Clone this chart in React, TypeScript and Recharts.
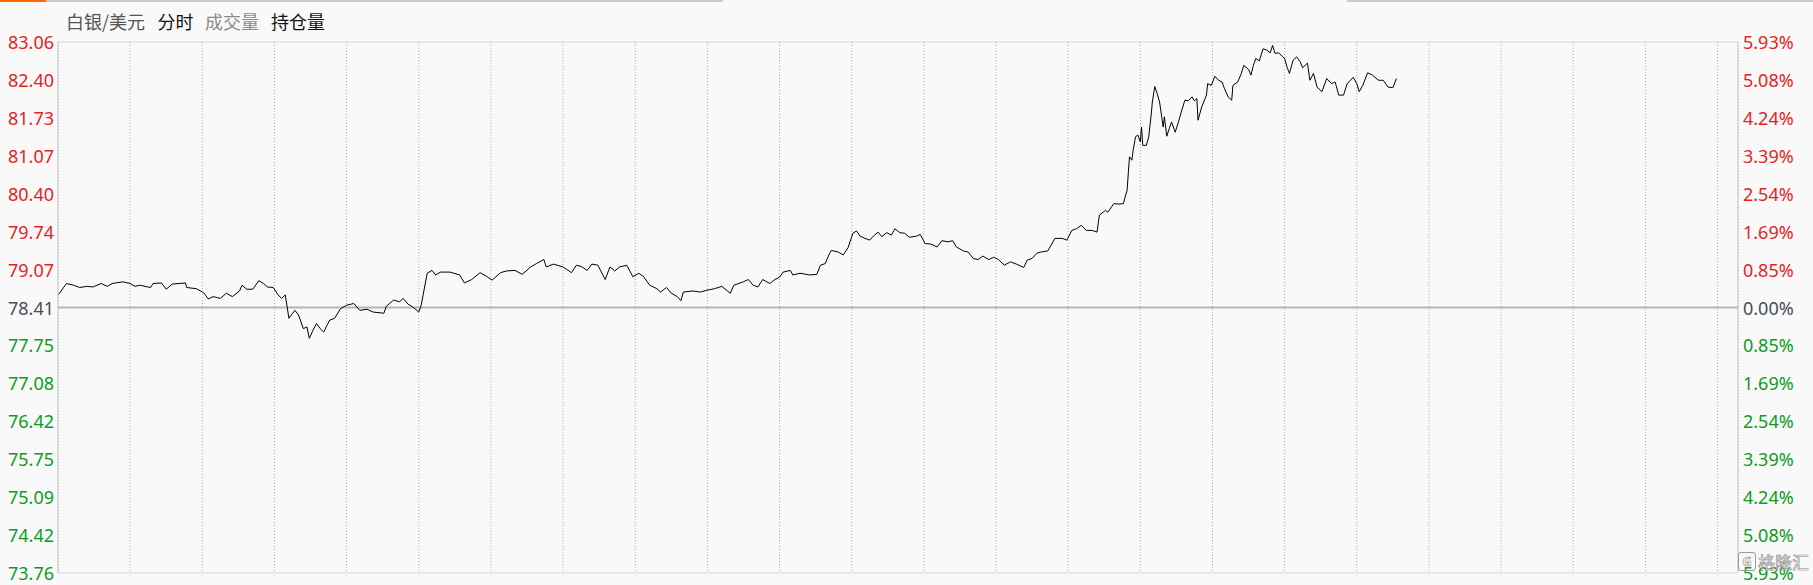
import { LineChart, Line, XAxis, YAxis, CartesianGrid, ReferenceLine } from "recharts"

// minutes since the session opened, and the silver price at that minute
const minutes = [
  0, 2, 7, 13, 18, 24, 29, 36, 41, 45, 54, 60, 64, 68, 77, 79, 86, 90, 95, 106,
  107, 115, 121, 125, 129, 135, 140, 145, 151, 153, 157, 162, 167, 171, 174, 179, 183, 186, 189, 192,
  194, 197, 200, 204, 207, 209, 212, 215, 218, 221, 223, 226, 230, 235, 240, 246, 251, 257, 262, 271,
  273, 279, 284, 287, 291, 295, 300, 302, 307, 311, 314, 318, 326, 334, 338, 344, 351, 356, 361, 368,
  373, 380, 386, 393, 398, 404, 406, 412, 420, 427, 431, 435, 440, 444, 449, 455, 459, 463, 467, 473,
  478, 483, 487, 492, 498, 501, 506, 510, 515, 518, 520, 528, 534, 539, 546, 552, 559, 562, 570, 574,
  578, 582, 586, 592, 596, 600, 603, 609, 611, 617, 625, 631, 634, 638, 641, 643, 649, 653, 657, 661,
  664, 667, 671, 675, 678, 682, 685, 689, 693, 696, 700, 704, 708, 714, 717, 721, 726, 731, 735, 740,
  744, 747, 753, 757, 761, 765, 769, 774, 778, 782, 787, 792, 797, 803, 806, 810, 814, 817, 823, 829,
  835, 839, 843, 847, 851, 855, 860, 864, 865, 866, 871, 873, 878, 882, 886, 887, 889, 890, 891, 893,
  894, 896, 898, 900, 901, 902, 905, 907, 909, 910, 912, 914, 916, 918, 919, 920, 922, 924, 926, 929,
  932, 934, 937, 940, 943, 945, 947, 948, 951, 955, 956, 959, 962, 965, 968, 970, 973, 976, 977, 981,
  984, 986, 990, 992, 994, 996, 999, 1002, 1005, 1008, 1010, 1012, 1015, 1018, 1020, 1022, 1024, 1027, 1030, 1033,
  1035, 1039, 1041, 1044, 1047, 1051, 1055, 1059, 1062, 1065, 1069, 1072, 1077, 1080, 1082, 1085, 1089, 1093, 1098, 1102,
  1106, 1110, 1113,
]

const prices = [
  78.63, 78.68, 78.83, 78.8, 78.76, 78.78, 78.77, 78.83, 78.78, 78.83, 78.86, 78.83, 78.78, 78.8, 78.76, 78.83, 78.84, 78.73, 78.82, 78.84,
  78.76, 78.74, 78.67, 78.56, 78.6, 78.57, 78.66, 78.6, 78.7, 78.8, 78.73, 78.73, 78.88, 78.83, 78.77, 78.76, 78.63, 78.57, 78.63, 78.22,
  78.28, 78.36, 78.28, 78.04, 78.07, 77.87, 78.01, 78.13, 78.04, 77.98, 78.07, 78.19, 78.22, 78.39, 78.45, 78.48, 78.36, 78.38, 78.33, 78.31,
  78.43, 78.54, 78.51, 78.57, 78.47, 78.42, 78.33, 78.45, 79.01, 79.06, 78.98, 79.03, 79.03, 78.98, 78.84, 78.9, 79.02, 78.96, 78.89, 79.02,
  79.05, 79.06, 78.99, 79.12, 79.18, 79.25, 79.12, 79.17, 79.12, 79.02, 79.15, 79.13, 79.06, 79.17, 79.15, 78.9, 79.12, 79.05, 79.12, 79.15,
  78.95, 79.01, 78.95, 78.8, 78.74, 78.68, 78.76, 78.66, 78.6, 78.53, 78.68, 78.7, 78.68, 78.71, 78.74, 78.78, 78.66, 78.8, 78.86, 78.9,
  78.8, 78.77, 78.9, 78.83, 78.9, 78.94, 79.03, 79.06, 78.98, 79.01, 78.98, 78.99, 79.15, 79.18, 79.33, 79.41, 79.38, 79.33, 79.46, 79.71,
  79.75, 79.66, 79.62, 79.59, 79.66, 79.73, 79.65, 79.72, 79.68, 79.79, 79.72, 79.71, 79.64, 79.66, 79.69, 79.53, 79.52, 79.47, 79.58, 79.56,
  79.58, 79.47, 79.4, 79.38, 79.27, 79.25, 79.31, 79.25, 79.29, 79.25, 79.15, 79.21, 79.17, 79.11, 79.24, 79.27, 79.36, 79.38, 79.4, 79.62,
  79.62, 79.59, 79.76, 79.79, 79.85, 79.76, 79.76, 79.73, 79.88, 80.03, 80.11, 80.08, 80.23, 80.22, 80.23, 80.32, 80.46, 80.76, 81.05, 80.99,
  81.16, 81.4, 81.43, 81.31, 81.57, 81.25, 81.25, 81.4, 81.78, 82.01, 82.28, 82.16, 82.01, 81.72, 81.57, 81.75, 81.41, 81.54, 81.66, 81.48,
  81.68, 81.83, 82.04, 82.03, 82.1, 82.03, 82.07, 81.69, 81.92, 82.13, 82.33, 82.3, 82.46, 82.39, 82.36, 82.24, 82.1, 82.04, 82.3, 82.36,
  82.51, 82.65, 82.58, 82.48, 82.65, 82.77, 82.73, 82.94, 82.92, 82.87, 83.0, 82.86, 82.87, 82.81, 82.77, 82.62, 82.51, 82.74, 82.8, 82.71,
  82.61, 82.69, 82.39, 82.51, 82.27, 82.19, 82.42, 82.33, 82.36, 82.13, 82.13, 82.33, 82.44, 82.33, 82.19, 82.3, 82.52, 82.48, 82.39, 82.39,
  82.27, 82.26, 82.42,
]

const PREV_CLOSE = 78.41
const SESSION_END = 1397

const priceTicks = [
  73.76, 74.42, 75.09, 75.75, 76.42, 77.08, 77.75, 78.41, 79.07, 79.74, 80.4, 81.07, 81.73, 82.4, 83.06,
]
const pctLabels = [
  "5.93%", "5.08%", "4.24%", "3.39%", "2.54%", "1.69%", "0.85%", "0.00%",
  "0.85%", "1.69%", "2.54%", "3.39%", "4.24%", "5.08%", "5.93%",
]
const hourTicks = [
  60, 120, 180, 240, 300, 360, 420, 480, 540, 600, 660, 720, 780, 840, 900, 960, 1020, 1080, 1140, 1200, 1260, 1320, 1380,
]

const RED = "#ea1d1d"
const GREEN = "#0e9b1f"
const NEUTRAL = "#4a4f57"
const AXIS_FONT = "'Noto Sans', 'DejaVu Sans', sans-serif"
const CJK_FONT = "'Noto Sans CJK SC', 'Noto Sans', sans-serif"

const chartData = minutes.map((m, i) => ({ m, price: prices[i] }))

const tickColor = (v: number) =>
  Math.abs(v - PREV_CLOSE) < 0.001 ? NEUTRAL : v > PREV_CLOSE ? RED : GREEN

const LeftTick = ({ x, y, payload }: any) => (
  <text
    x={x}
    y={y}
    textAnchor="end"
    dominantBaseline="central"
    fill={tickColor(payload.value)}
    fontSize={18}
    fontFamily={AXIS_FONT}
  >
    {payload.value.toFixed(2)}
  </text>
)

const RightTick = ({ x, y, payload, index }: any) => (
  <text
    x={x}
    y={y}
    textAnchor="start"
    dominantBaseline="central"
    fill={tickColor(payload.value)}
    fontSize={18}
    fontFamily={AXIS_FONT}
  >
    {pctLabels[index]}
  </text>
)

const tabs = [
  { label: "白银/美元", color: "#555", left: 66 },
  { label: "分时", color: "#111", left: 157.5 },
  { label: "成交量", color: "#8a8a8a", left: 205 },
  { label: "持仓量", color: "#111", left: 271 },
]

export default function App() {
  return (
    <div
      style={{
        position: "absolute",
        left: 0,
        top: 0,
        width: 1813,
        height: 585,
        background: "#f9f9f9",
        overflow: "hidden",
      }}
    >
      {/* top strip */}
      <div style={{ position: "absolute", left: 0, top: 0, width: 46, height: 2, background: "#ff6a00" }} />
      <div style={{ position: "absolute", left: 46, top: 0, width: 677, height: 2, background: "#cccccc" }} />
      <div style={{ position: "absolute", left: 1347, top: 0, width: 466, height: 2, background: "#cccccc" }} />

      {tabs.map((t) => (
        <div
          key={t.label}
          style={{
            position: "absolute",
            left: t.left,
            top: 9,
            fontSize: 18,
            lineHeight: "24px",
            fontFamily: CJK_FONT,
            color: t.color,
            whiteSpace: "nowrap",
          }}
        >
          {t.label}
        </div>
      ))}

      <LineChart width={1813} height={585} data={chartData} margin={{ top: 42, right: 0, bottom: 12, left: 0 }}>
        <CartesianGrid horizontal={true} vertical={false} stroke="#d6d6d6" strokeWidth={1} />
        <CartesianGrid horizontal={false} vertical={true} stroke="#a8a8a8" strokeDasharray="1 2" />
        <XAxis
          type="number"
          dataKey="m"
          domain={[0, SESSION_END]}
          ticks={hourTicks}
          allowDataOverflow
          hide
        />
        <YAxis
          yAxisId="price"
          orientation="left"
          width={58}
          domain={[73.76, 83.06]}
          ticks={priceTicks}
          allowDataOverflow
          interval={0}
          axisLine={{ stroke: "#c8c8c8" }}
          tickLine={false}
          tickSize={0}
          tickMargin={4}
          tick={<LeftTick />}
        />
        <YAxis
          yAxisId="pct"
          orientation="right"
          width={75}
          domain={[73.76, 83.06]}
          ticks={priceTicks}
          allowDataOverflow
          interval={0}
          axisLine={{ stroke: "#c8c8c8" }}
          tickLine={false}
          tickSize={0}
          tickMargin={5}
          tick={<RightTick />}
        />
        <ReferenceLine yAxisId="price" y={PREV_CLOSE} stroke="#b5b5b5" strokeWidth={2} />
        <Line
          yAxisId="price"
          type="linear"
          dataKey="price"
          stroke="#000"
          strokeWidth={1}
          dot={false}
          activeDot={false}
          isAnimationActive={false}
        />
      </LineChart>

      {/* watermark */}
      <div
        style={{
          position: "absolute",
          left: 1738,
          top: 549,
          display: "flex",
          alignItems: "center",
          gap: 2,
          fontFamily: CJK_FONT,
          fontSize: 17,
          color: "rgba(255,255,255,0.9)",
          WebkitTextStroke: "0.6px #8a8a8a",
          whiteSpace: "nowrap",
        }}
      >
        <span
          style={{
            display: "inline-block",
            width: 16,
            height: 17,
            lineHeight: "17px",
            textAlign: "center",
            border: "1px solid #9a9a9a",
            borderRadius: 3,
            fontSize: 13,
            fontFamily: AXIS_FONT,
            fontWeight: 700,
          }}
        >
          G
        </span>
        <span>格隆汇</span>
      </div>
    </div>
  )
}
